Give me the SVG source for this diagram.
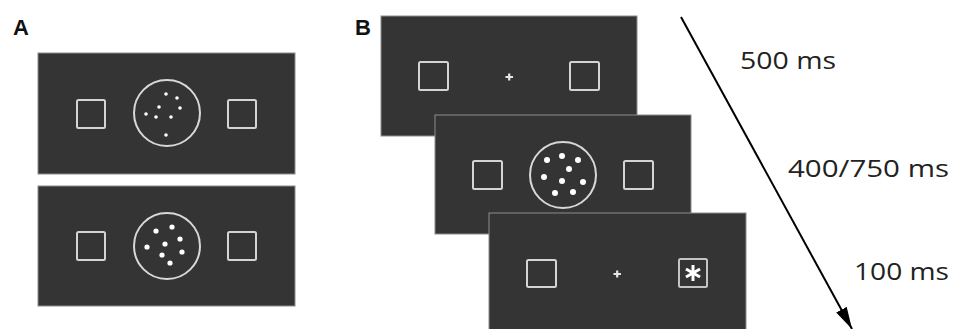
<svg xmlns="http://www.w3.org/2000/svg" width="961" height="329" viewBox="0 0 961 329">
<defs>
<style>
.screen{fill:#343434;stroke:#8c8c8c;stroke-width:1}
.box{fill:none;stroke:#d4d4d4;stroke-width:2}
.ring{fill:none;stroke:#d8d8d8;stroke-width:2}
.dot{fill:#ffffff}
.cross{stroke:#e6e6e6;stroke-width:2.2;fill:none}
.star{stroke:#ffffff;stroke-width:3;stroke-linecap:butt}
.lbl{font-family:"Liberation Sans",Arial,sans-serif;font-weight:bold;font-size:22px;fill:#111}
.ms{font-family:"Open Sans","Noto Sans",sans-serif;font-size:24px;fill:#222}
</style>
<marker id="head" markerUnits="userSpaceOnUse" markerWidth="24" markerHeight="14" refX="22" refY="6" orient="auto">
<path d="M0,0 L22,6 L0,12 Z" fill="#000"/>
</marker>
</defs>
<rect width="961" height="329" fill="#ffffff"/>

<text class="lbl" x="13" y="35">A</text>
<text class="lbl" x="355" y="35">B</text>

<g id="a-top">
<rect class="screen" x="38" y="53" width="257" height="121"/>
<rect class="box" x="77" y="100" width="28" height="28" rx="1.5"/>
<rect class="box" x="228" y="100" width="28" height="28" rx="1.5"/>
<circle class="ring" cx="167" cy="113" r="33"/>
<g class="dot">
<circle cx="166" cy="94" r="1.8"/><circle cx="177" cy="98" r="1.8"/><circle cx="159" cy="107" r="1.8"/><circle cx="180" cy="108" r="1.8"/>
<circle cx="146" cy="114" r="1.8"/><circle cx="156" cy="117" r="1.8"/><circle cx="171" cy="117" r="1.8"/><circle cx="166" cy="135" r="1.8"/>
</g>
</g>

<g id="a-bottom">
<rect class="screen" x="38" y="186" width="257" height="120"/>
<rect class="box" x="77" y="232" width="28" height="28" rx="1.5"/>
<rect class="box" x="228" y="232" width="28" height="28" rx="1.5"/>
<circle class="ring" cx="167" cy="246" r="33"/>
<g class="dot">
<circle cx="156" cy="231" r="2.6"/><circle cx="172" cy="227" r="2.6"/><circle cx="180" cy="239" r="2.6"/><circle cx="165" cy="244" r="2.6"/>
<circle cx="147" cy="247" r="2.6"/><circle cx="182" cy="252" r="2.6"/><circle cx="162" cy="255" r="2.6"/><circle cx="170" cy="263" r="2.6"/>
</g>
</g>

<g id="b-fixation">
<rect class="screen" x="381" y="16" width="256" height="120"/>
<rect class="box" x="419" y="62" width="29" height="28" rx="1.5"/>
<rect class="box" x="570" y="62" width="29" height="28" rx="1.5"/>
<path class="cross" d="M505.5,77 H513 M509.2,73.5 V80.5"/>
</g>

<g id="b-dots">
<rect class="screen" x="435" y="115" width="256" height="119"/>
<rect class="box" x="473" y="161" width="29" height="28" rx="1.5"/>
<rect class="box" x="624" y="161" width="29" height="28" rx="1.5"/>
<circle class="ring" cx="563" cy="175" r="33"/>
<g class="dot">
<circle cx="547" cy="160" r="3"/><circle cx="562" cy="156" r="3"/><circle cx="578" cy="160" r="3"/><circle cx="569" cy="169" r="3"/>
<circle cx="544" cy="177" r="3"/><circle cx="562" cy="181" r="3"/><circle cx="583" cy="182" r="3"/><circle cx="555" cy="193" r="3"/><circle cx="573" cy="192" r="3"/>
</g>
</g>

<g id="b-target">
<rect class="screen" x="489" y="213" width="257" height="130"/>
<rect class="box" x="527" y="260" width="29" height="27" rx="1.5"/>
<path class="cross" d="M613.5,274 H621 M617.2,270.5 V277.5"/>
<rect class="box" x="679" y="259" width="28" height="28" rx="1.5" style="stroke:#c4c4c4"/>
<g class="star">
<line x1="693" y1="265" x2="693" y2="281"/>
<line x1="686" y1="269" x2="700" y2="277"/>
<line x1="686" y1="277" x2="700" y2="269"/>
</g>
</g>

<g id="connectors">
<line x1="681" y1="17" x2="852" y2="329" stroke="#000" stroke-width="2" marker-end="url(#head)"/>
</g>

<g id="timings">
<text class="ms" x="740" y="69" textLength="96" lengthAdjust="spacingAndGlyphs">500 ms</text>
<text class="ms" x="788" y="177" textLength="161" lengthAdjust="spacingAndGlyphs">400/750 ms</text>
<text class="ms" x="854" y="280" textLength="95" lengthAdjust="spacingAndGlyphs">100 ms</text>
</g>
</svg>
